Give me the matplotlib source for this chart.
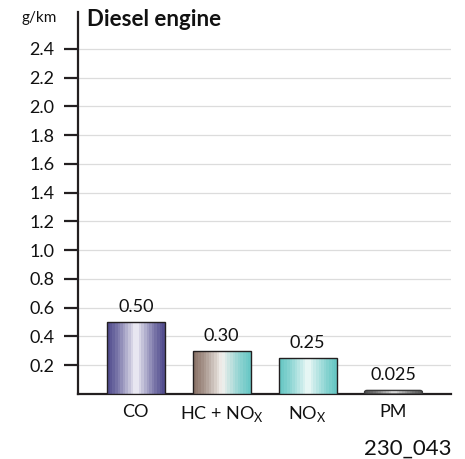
import matplotlib
matplotlib.use("Agg")
import matplotlib.pyplot as plt
import numpy as np
from matplotlib.colors import to_rgb
from matplotlib.patches import Rectangle, FancyBboxPatch

plt.rcParams['font.family'] = ['Lato', 'DejaVu Sans']

# emission limits, diesel engine
categories = ['CO', r'HC + NO$_\mathregular{X}$', r'NO$_\mathregular{X}$', 'PM']
values = [0.50, 0.30, 0.25, 0.025]
value_labels = ['0.50', '0.30', '0.25', '0.025']
yticks = [0.2, 0.4, 0.6, 0.8, 1.0, 1.2, 1.4, 1.6, 1.8, 2.0, 2.2, 2.4]
ytick_labels = ['0.2', '0.4', '0.6', '0.8', '1.0', '1.2', '1.4', '1.6', '1.8', '2.0', '2.2', '2.4']

# left colour, light middle colour, right colour for the striped bars
bar_colors = [
    ('#514c8e', '#f2f1f8', '#514c8e'),
    ('#8b7368', '#f4f1ee', '#68c8c6'),
    ('#66c7c4', '#eef9f8', '#66c7c4'),
    ('#555555', '#dedede', '#555555'),
]
dark = '#231f20'

fig = plt.figure(figsize=(4.65, 4.59), dpi=100)
ax = fig.add_axes([78/465, 1-394/459, (451-78)/465, (394-12)/459])

width = 0.674
x = np.arange(len(values))


def stripes(c0, c1, c2, n=22):
    t = (np.arange(n) + 0.5) / n
    a, b, c = np.array(to_rgb(c0)), np.array(to_rgb(c1)), np.array(to_rgb(c2))
    cols = []
    for v in t:
        if v < 0.5:
            s = (v / 0.5) ** 1.3
            cols.append(a + (b - a) * s)
        else:
            s = ((1 - v) / 0.5) ** 1.3
            cols.append(c + (b - c) * s)
    return np.array(cols)[None, :, :]


for i, (xi, v) in enumerate(zip(x, values)):
    x0 = xi - width / 2
    img = ax.imshow(stripes(*bar_colors[i]), extent=(x0, x0 + width, 0, v),
                    aspect='auto', interpolation='nearest', zorder=3)
    if i == 3:
        patch = FancyBboxPatch((x0, 0), width, v,
                               boxstyle='round,pad=0,rounding_size=0.03',
                               mutation_aspect=0.4, facecolor='none',
                               edgecolor='#3a3a3a', lw=1.0, zorder=4)
    else:
        patch = Rectangle((x0, 0), width, v, facecolor='none',
                          edgecolor=dark, lw=1.0, zorder=4)
    ax.add_patch(patch)
    img.set_clip_path(patch)
    ax.annotate(value_labels[i], (xi, v), xytext=(0, 5), textcoords='offset points',
                ha='center', va='bottom', fontsize=13, color='#111111')

ax.set_xlim(-0.674, 3.67)
ax.set_ylim(0, 2.657)
ax.set_yticks(yticks)
ax.set_yticklabels(ytick_labels)
ax.set_xticks(x)
ax.set_xticklabels(categories)

for y in yticks:
    ax.axhline(y, color='#dcdcdc', lw=0.9, zorder=1)

ax.spines['top'].set_visible(False)
ax.spines['right'].set_visible(False)
ax.spines['left'].set_color(dark)
ax.spines['bottom'].set_color(dark)
ax.spines['left'].set_linewidth(1.6)
ax.spines['bottom'].set_linewidth(1.6)
ax.tick_params(axis='y', direction='out', length=10, width=1.6, color=dark,
               pad=7, labelsize=13, labelcolor='#111111')
ax.tick_params(axis='x', length=0, pad=7, labelsize=13, labelcolor='#111111')

fig.text(57/465, 1-18/459, 'g/km', ha='right', va='center', fontsize=11, color='#111111')
fig.text(87/465, 1-26/459, 'Diesel engine', ha='left', va='baseline',
         fontsize=16, fontweight='bold', color='#111111')
fig.text(451/465, 1-455/459, '230_043', ha='right', va='baseline',
         fontsize=16, color='#111111')

fig.savefig('out.png', dpi=100)
